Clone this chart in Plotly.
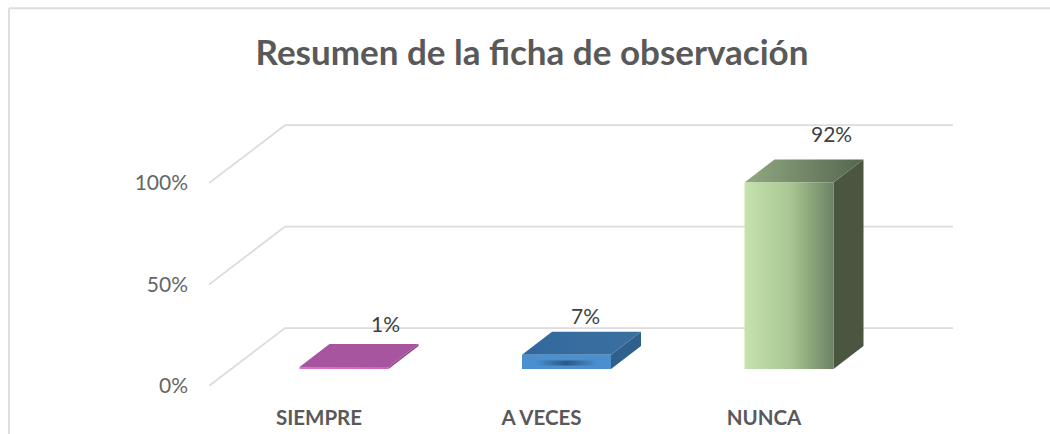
import plotly.graph_objects as go

# ---- data ----
CATEGORIES = ["SIEMPRE", "A VECES", "NUNCA"]
VALUES = [1, 7, 92]
VALUE_LABELS = ["1%", "7%", "92%"]
Y_TICKS = [0, 50, 100]
Y_TICK_LABELS = ["0%", "50%", "100%"]
TITLE = "Resumen de la ficha de observación"

# ---- styles ----
FRONT = [[[0, "#e070d4"], [1, "#c765bc"]],
         [[0, "#4a90d0"], [1, "#4a90d0"]],
         [[0, "#c6e3ae"], [0.5, "#aac893"], [1, "#6d8263"]]]
TOP = [[[0, "#a8559f"], [1, "#a8559f"]],
       [[0, "#31689c"], [0.5, "#376d9f"], [1, "#3a6f9f"]],
       [[0, "#92a982"], [1, "#55654f"]]]
SIDE = ["#8c4684", "#2f5f8d", "#4b5640"]
SPOT = [[0, "rgba(36,74,112,0)"], [0.15, "rgba(36,74,112,0)"], [0.5, "rgba(36,74,112,.8)"],
        [0.85, "rgba(36,74,112,0)"], [1, "rgba(36,74,112,0)"]]
GRID = "#dcdcdc"
TEXT = "#595959"
TICK_TEXT = "#666666"
LABEL_TEXT = "#404040"
FONT = "Lato"

PX_X, PX_Y = 222.5, 2.03            # pixels per category / per percent
X_RANGE = [-0.6067, 2.737]
Y_RANGE = [0, 140]
BAR_W = 0.4
FLOOR_DX, FLOOR_DY = 76 / PX_X, 58 / PX_Y   # depth of the chart floor
BAR_DX, BAR_DY = 30 / PX_X, 23 / PX_Y       # depth of one bar
BASE_Y = 17 / PX_Y                          # bar base sits inside the floor
TICK_SHIFT = -25 / PX_X
LABEL_SHIFT = [(41, 43), (19, 39), (42, 49)]

fig = go.Figure()


def poly(xs, ys, color=None, grad=None):
    kw = {"fillgradient": dict(type="horizontal", colorscale=grad)} if grad else {"fillcolor": color}
    fig.add_trace(go.Scatter(x=xs + xs[:1], y=ys + ys[:1], mode="lines", fill="toself",
                             line=dict(width=0, color="rgba(0,0,0,0)"),
                             hoverinfo="skip", showlegend=False, cliponaxis=False, **kw))


# wall / floor gridlines
for t in Y_TICKS:
    fig.add_trace(go.Scatter(
        x=[X_RANGE[0], X_RANGE[0] + FLOOR_DX, X_RANGE[1]],
        y=[t, t + FLOOR_DY, t + FLOOR_DY], mode="lines",
        line=dict(color=GRID, width=1.8), hoverinfo="skip",
        showlegend=False, cliponaxis=False))

# bars
for i, v in enumerate(VALUES):
    x0, x1 = i - BAR_W / 2, i + BAR_W / 2
    y0, y1 = BASE_Y, BASE_Y + v
    poly([x1, x1 + BAR_DX, x1 + BAR_DX, x1], [y0, y0 + BAR_DY, y1 + BAR_DY, y1], color=SIDE[i])
    poly([x0, x1, x1 + BAR_DX, x0 + BAR_DX], [y1, y1, y1 + BAR_DY, y1 + BAR_DY], grad=TOP[i])
    poly([x0, x1, x1, x0], [y0, y0, y1, y1], grad=FRONT[i])
    if CATEGORIES[i] == "A VECES":
        # dark soft spot in the front face of the blue bar
        poly([x0, x1, x1, x0], [y0 + v * .25, y0 + v * .25, y0 + v * .6, y0 + v * .6], grad=SPOT)

# data labels
for i, v in enumerate(VALUES):
    fig.add_annotation(x=i, y=BASE_Y + v, text=VALUE_LABELS[i], showarrow=False,
                       xshift=LABEL_SHIFT[i][0], yshift=LABEL_SHIFT[i][1],
                       font=dict(family=FONT, size=21, color=LABEL_TEXT))

border = dict(type="line", xref="paper", yref="paper", line=dict(color=GRID, width=1.8))
L, B, W, H = 209, 386, 744, 284.2
fig.update_layout(
    width=1050, height=434, margin=dict(l=209, r=97, t=101.8, b=48, autoexpand=False),
    paper_bgcolor="white", plot_bgcolor="white", showlegend=False,
    font=dict(family=FONT, color=TEXT),
    title=dict(text=TITLE, x=532 / 1050, xanchor="center", y=1 - 53 / 434, yanchor="middle",
               xref="container", yref="container", automargin=False,
               font=dict(family=FONT, size=35, color=TEXT, weight="bold")),
    xaxis=dict(range=X_RANGE, showgrid=False, zeroline=False, showline=False, ticks="",
               automargin=False, tickmode="array",
               tickvals=[i + TICK_SHIFT for i in range(len(CATEGORIES))],
               ticktext=CATEGORIES, ticklabelstandoff=17,
               tickfont=dict(family=FONT, size=20.5, color=TEXT, weight="bold")),
    yaxis=dict(range=Y_RANGE, showgrid=False, zeroline=False, showline=False, ticks="",
               automargin=False, tickmode="array", tickvals=Y_TICKS, ticktext=Y_TICK_LABELS,
               ticklabelstandoff=20, tickfont=dict(family=FONT, size=21, color=TICK_TEXT)),
    shapes=[
        dict(border, x0=(9 - L) / W, x1=(9 - L) / W, y0=(B - 8) / H, y1=(B - 434) / H),
        dict(border, x0=(9 - L) / W, x1=(1050 - L) / W, y0=(B - 8) / H, y1=(B - 8) / H),
    ],
)
fig.write_html("out.html", config={"displayModeBar": False},
               post_script="document.body.style.margin='0';")
